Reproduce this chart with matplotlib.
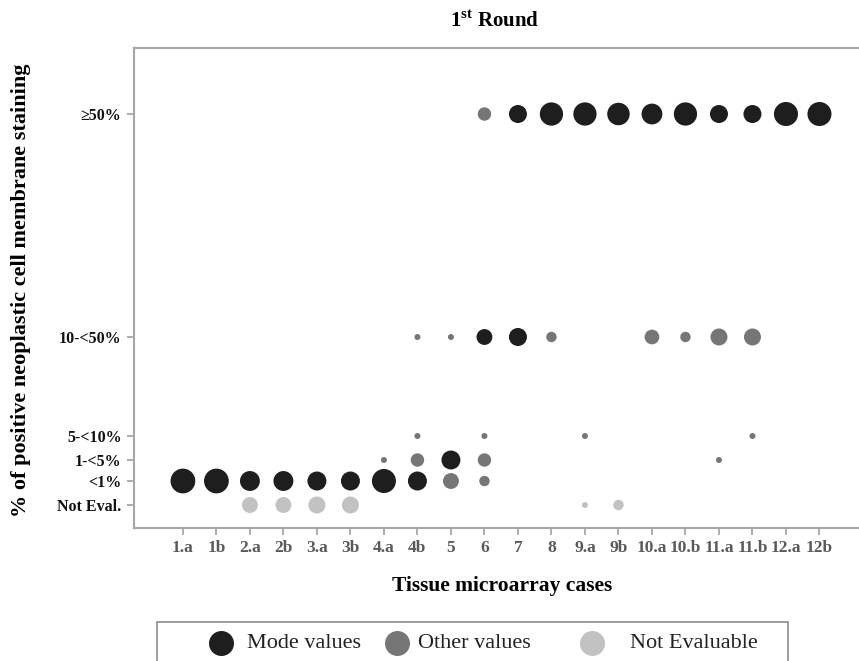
import matplotlib
matplotlib.use("Agg")
import matplotlib.pyplot as plt
from matplotlib.lines import Line2D
from matplotlib.patches import Rectangle

plt.rcParams['font.family'] = ['Liberation Serif', 'DejaVu Serif']
plt.rcParams['mathtext.fontset'] = 'custom'
plt.rcParams['mathtext.rm'] = 'Liberation Serif'
plt.rcParams['mathtext.bf'] = 'Liberation Serif:bold'

cases = ["1.a", "1b", "2.a", "2b", "3.a", "3b", "4.a", "4b", "5", "6", "7", "8",
         "9.a", "9b", "10.a", "10.b", "11.a", "11.b", "12.a", "12b"]
levels = ["Not Eval.", "<1%", "1-<5%", "5-<10%", "10-<50%", "≥50%"]
level_pos = [0, 1, 1.875, 2.875, 7, 16.29]

# number of laboratories per case / class
mode_case = ["1.a", "1b", "2.a", "2b", "3.a", "3b", "4.a", "4b", "5", "6", "7", "7",
             "8", "9.a", "9b", "10.a", "10.b", "11.a", "11.b", "12.a", "12b"]
mode_level = ["<1%", "<1%", "<1%", "<1%", "<1%", "<1%", "<1%", "<1%", "1-<5%", "10-<50%",
              "≥50%", "10-<50%", "≥50%", "≥50%", "≥50%", "≥50%", "≥50%", "≥50%", "≥50%",
              "≥50%", "≥50%"]
mode_n = [17, 17, 11, 11, 10, 10, 16, 10, 10, 7, 9, 9, 15, 15, 14, 12, 15, 9, 9, 16, 16]

other_case = ["4.a", "4b", "4b", "4b", "5", "5", "6", "6", "6", "6", "8", "9.a",
              "10.a", "10.b", "11.a", "11.a", "11.b", "11.b"]
other_level = ["1-<5%", "10-<50%", "5-<10%", "1-<5%", "10-<50%", "<1%", "≥50%", "5-<10%",
               "1-<5%", "<1%", "10-<50%", "5-<10%", "10-<50%", "10-<50%", "10-<50%",
               "1-<5%", "10-<50%", "5-<10%"]
other_n = [1, 1, 1, 5, 1, 7, 5, 1, 5, 3, 3, 1, 6, 3, 8, 1, 8, 1]

ne_case = ["2.a", "2b", "3.a", "3b", "9.a", "9b"]
ne_n = [7, 7, 8, 8, 1, 3]

legend_labels = ["Mode values", "Other values", "Not Evaluable"]

col_mode = '#1e1e1e'
col_other = '#767676'
col_ne = '#c2c2c2'
k = 18.7  # marker area per laboratory

W, H = 859, 661
fig = plt.figure(figsize=(W / 100, H / 100), dpi=100)
ax = fig.add_axes([134 / W, 1 - 528 / H, 1 - 134 / W, (528 - 48) / H])

xi = {c: i for i, c in enumerate(cases)}
yi = dict(zip(levels, level_pos))

ax.scatter([xi[c] for c in mode_case], [yi[l] for l in mode_level],
           s=[k * n for n in mode_n], color=col_mode, linewidths=0, zorder=3)
ax.scatter([xi[c] for c in other_case], [yi[l] for l in other_level],
           s=[k * n for n in other_n], color=col_other, linewidths=0, zorder=3)
ax.scatter([xi[c] for c in ne_case], [yi["Not Eval."]] * len(ne_case),
           s=[k * n for n in ne_n], color=col_ne, linewidths=0, zorder=3)

ax.set_xlim(-1.46, 20.18)
ax.set_ylim(-0.958, 19.04)
ax.set_xticks(range(len(cases)))
ax.set_xticklabels(cases, fontsize=12.5, fontweight='bold', color='#595959')
ax.set_yticks(level_pos)
ax.set_yticklabels(levels, fontsize=11.5, fontweight='bold', color='#111111')
ax.tick_params(axis='both', length=5, width=1.2, color='#a0a0a0', pad=4)

for side in ['left', 'bottom', 'top']:
    ax.spines[side].set_color('#a6a6a6')
    ax.spines[side].set_linewidth(1.5)
ax.spines['right'].set_visible(False)

fig.text(495 / W, 1 - 21 / H, r"1$^{\mathbf{st}}$ Round", ha='center', va='center',
         fontsize=15, fontweight='bold')
fig.text(21 / W, 1 - 290 / H, "% of positive neoplastic cell membrane staining",
         rotation=90, ha='center', va='center', fontsize=16, fontweight='bold')
fig.text(502 / W, 1 - 586 / H, "Tissue microarray cases", ha='center', va='center',
         fontsize=15.5, fontweight='bold')

# legend box, laid out by hand like the original (frame runs off the bottom edge)
fig.patches.append(Rectangle((157 / W, -0.02), (788 - 157) / W, (H - 622) / H + 0.02,
                             transform=fig.transFigure, fill=False, edgecolor='#8c8c8c',
                             linewidth=1.2))
leg_marker_x = [221, 397, 592]
leg_text_x = [247, 418, 630]
for mx, tx, c, lab in zip(leg_marker_x, leg_text_x, (col_mode, col_other, col_ne),
                          legend_labels):
    fig.add_artist(Line2D([mx / W], [1 - 643 / H], transform=fig.transFigure,
                          marker='o', linestyle='none', markersize=18, color=c,
                          markeredgewidth=0))
    fig.text(tx / W, 1 - 643 / H, lab, ha='left', va='center', fontsize=16,
             color='#222222')

fig.savefig('out.png', dpi=100)
